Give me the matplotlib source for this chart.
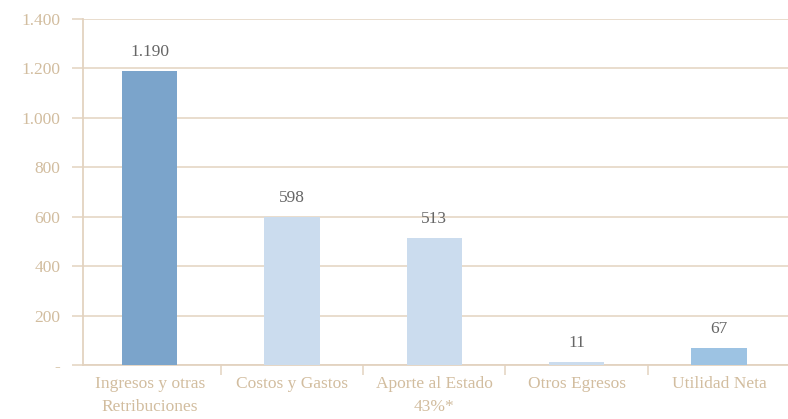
import numpy as np
import matplotlib.pyplot as plt
from matplotlib.ticker import FixedLocator

plt.rcParams["font.family"] = ["Liberation Serif", "DejaVu Serif"]

categorias = ["Ingresos y otras\nRetribuciones", "Costos y Gastos",
              "Aporte al Estado\n43%*", "Otros Egresos", "Utilidad Neta"]
valores = [1190, 598, 513, 11, 67]
etiquetas = ["1.190", "598", "513", "11", "67"]
colores = ["#7ba4cb", "#cbdcee", "#cbdcee", "#cbdcee", "#9dc3e3"]
yticks = [0, 200, 400, 600, 800, 1000, 1200, 1400]
ytick_labels = ["-", "200", "400", "600", "800", "1.000", "1.200", "1.400"]

beige = "#e3d3c0"
beige_txt = "#d2bd9f"

fig = plt.figure(figsize=(7.88, 4.19), dpi=100)
ax = fig.add_axes([0.105, 0.129, 0.903, 0.826])

x = np.arange(len(categorias))
bars = ax.bar(x, valores, width=0.39, color=colores, zorder=3)

for b, t in zip(bars, etiquetas):
    ax.annotate(t, (b.get_x() + b.get_width() / 2, b.get_height()),
                xytext=(0, 8), textcoords="offset points",
                ha="center", va="bottom", fontsize=12.5, color="#666666")

ax.set_xlim(-0.47, len(categorias) - 0.47)
ax.set_ylim(0, 1400)
ax.set_yticks(yticks)
ax.set_yticklabels(ytick_labels)
ax.grid(axis="y", color=beige, linewidth=1.1, zorder=0)

ax.set_xticks(x)
ax.set_xticklabels(categorias, linespacing=1.55)
ax.xaxis.set_minor_locator(FixedLocator(x[:-1] + 0.5))
ax.tick_params(axis="x", which="major", length=0, pad=8, labelsize=12.5, labelcolor=beige_txt)
ax.tick_params(axis="x", which="minor", length=7, width=1.1, color=beige, direction="out")
ax.tick_params(axis="y", length=8, width=1.1, color=beige, pad=8, labelsize=12.5, labelcolor=beige_txt)

for s in ["top", "right"]:
    ax.spines[s].set_visible(False)
for s in ["left", "bottom"]:
    ax.spines[s].set_color(beige)
    ax.spines[s].set_linewidth(1.3)

fig.savefig("out.png", dpi=100, facecolor="white")
